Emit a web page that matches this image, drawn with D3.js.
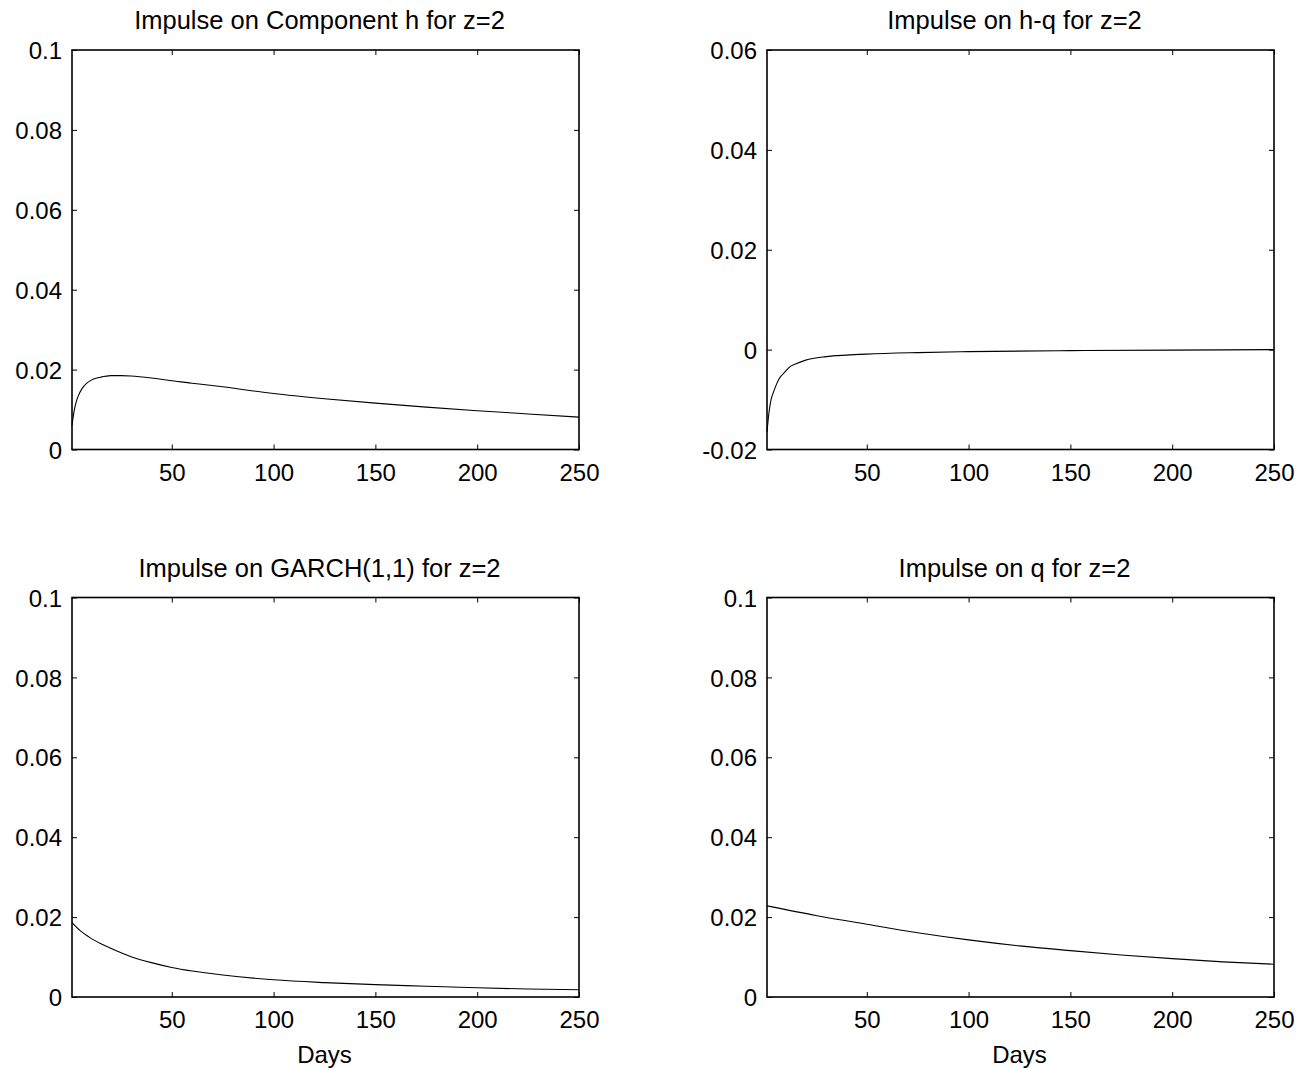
<!DOCTYPE html>
<html>
<head>
<meta charset="utf-8">
<script src="https://cdn.jsdelivr.net/npm/d3@7"></script>
<style>
  body { margin: 0; background: #fff; }
  text { font-family: "Liberation Sans", Arial, sans-serif; fill: #000; }
</style>
</head>
<body>
<div id="svg"></div>
<script>
/*
 * Data.
 */
var xTicks = [50, 100, 150, 200, 250];

var hDays = [1, 2, 3, 4, 6, 8, 11, 15, 20, 25, 30, 40, 50, 60, 75, 100, 125, 150, 175, 200, 225, 250]
  , hValues = [0.006, 0.0095, 0.0118, 0.0133, 0.0153, 0.0165, 0.0175, 0.0181, 0.0185, 0.0185, 0.0184,
               0.0179, 0.0172, 0.0166, 0.0157, 0.0140, 0.0127, 0.0116, 0.0106, 0.0097, 0.0089, 0.0081];

var hqDays = [1, 2, 3, 4, 5, 7, 10, 12, 15, 20, 30, 40, 50, 75, 100, 150, 200, 250]
  , hqValues = [-0.0165, -0.0125, -0.0100, -0.0087, -0.0076, -0.0058, -0.0044, -0.0035, -0.0029,
                -0.0021, -0.0014, -0.0011, -0.0009, -0.0006, -0.0004, -0.0002, -0.0001, 0];

var garchDays = [1, 5, 10, 15, 20, 30, 40, 50, 60, 75, 100, 125, 150, 175, 200, 225, 250]
  , garchValues = [0.0186, 0.0166, 0.0148, 0.0134, 0.0122, 0.0101, 0.0086, 0.0074, 0.0065, 0.0055,
                   0.0043, 0.0036, 0.0031, 0.0027, 0.0023, 0.0020, 0.0018];

var qDays = [1, 25, 50, 75, 100, 125, 150, 175, 200, 225, 250]
  , qValues = [0.0228, 0.0204, 0.0182, 0.0161, 0.0143, 0.0128, 0.0116, 0.0105, 0.0096, 0.0088, 0.0082];

var yTicksPos = [0, 0.02, 0.04, 0.06, 0.08, 0.1]
  , yTicksHq = [-0.02, 0, 0.02, 0.04, 0.06];

var panels = [
  { title: 'Impulse on Component h for z=2', days: hDays, values: hValues, yTicks: yTicksPos, x: 72, y: 50, xlabel: false },
  { title: 'Impulse on h-q for z=2', days: hqDays, values: hqValues, yTicks: yTicksHq, x: 767, y: 50, xlabel: false },
  { title: 'Impulse on GARCH(1,1) for z=2', days: garchDays, values: garchValues, yTicks: yTicksPos, x: 72, y: 597.5, xlabel: true },
  { title: 'Impulse on q for z=2', days: qDays, values: qValues, yTicks: yTicksPos, x: 767, y: 597.5, xlabel: true }
];

var width = 1308
  , height = 1068
  , pw = 507
  , ph = 399.5;

var svg = d3.select('#svg').append('svg')
  .attr('width', width)
  .attr('height', height);

var fmt = function(d) { return String(+d.toFixed(3)); };

panels.forEach(function(p) {
  var g = svg.append('g').attr('transform', 'translate(' + p.x + ',' + p.y + ')');

  var x = d3.scaleLinear().domain([1, 250]).range([0, pw]);
  var y = d3.scaleLinear().domain(d3.extent(p.yTicks)).range([ph, 0]);

  // axes, ticks pointing inward on all four sides
  g.append('g').attr('transform', 'translate(0,' + ph + ')')
    .call(d3.axisBottom(x).tickValues(xTicks).tickSize(-5).tickPadding(14).tickSizeOuter(0).tickFormat(fmt));
  g.append('g')
    .call(d3.axisTop(x).tickValues(xTicks).tickSize(-5).tickSizeOuter(0).tickFormat(''));
  var left = g.append('g')
    .call(d3.axisLeft(y).tickValues(p.yTicks).tickSize(-5).tickPadding(10).tickSizeOuter(0).tickFormat(fmt));
  g.append('g').attr('transform', 'translate(' + pw + ',0)')
    .call(d3.axisRight(y).tickValues(p.yTicks).tickSize(-5).tickSizeOuter(0).tickFormat(''));

  g.selectAll('.domain').remove();
  g.selectAll('.tick line').attr('stroke', '#000').attr('stroke-width', 1);
  g.selectAll('.tick text').style('font-size', '24px').attr('font-family', null);
  left.selectAll('.tick text').attr('dy', '0.36em');

  g.append('rect')
    .attr('width', pw)
    .attr('height', ph)
    .attr('fill', 'none')
    .attr('stroke', '#000')
    .attr('stroke-width', 1.6);

  var line = d3.line()
    .x(function(d, i) { return x(p.days[i]); })
    .y(function(d) { return y(d); })
    .curve(d3.curveMonotoneX);

  g.append('path')
    .datum(p.values)
    .attr('fill', 'none')
    .attr('stroke', '#000')
    .attr('stroke-width', 1.1)
    .attr('d', line);

  g.append('text')
    .attr('x', pw / 2 - 6)
    .attr('y', -21)
    .attr('text-anchor', 'middle')
    .style('font-size', '25.5px')
    .text(p.title);

  if (p.xlabel) {
    g.append('text')
      .attr('x', pw / 2 - 1)
      .attr('y', ph + 66)
      .attr('text-anchor', 'middle')
      .style('font-size', '24px')
      .text('Days');
  }
});
</script>
</body>
</html>
